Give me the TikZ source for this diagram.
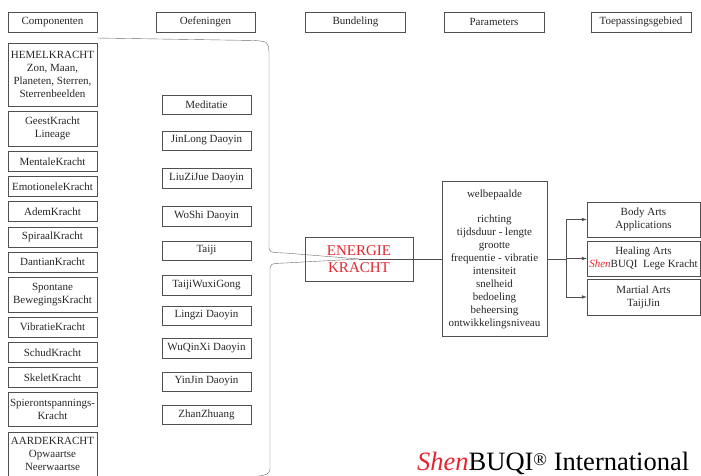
\documentclass[tikz,border=0pt]{standalone}
\usepackage{fontspec}
\setmainfont{Liberation Serif}
\usetikzlibrary{arrows.meta,positioning,calc}
\definecolor{shenred}{HTML}{E3262F}
\definecolor{boxgray}{HTML}{505050}
\definecolor{bracegray}{HTML}{6A6A6A}
\tikzset{
    node distance =4.75pt, semithick,
    box/.style ={draw=boxgray, align=center, inner xsep=1pt, inner ysep=2pt,
        text=black!85, font=\fontsize{11}{13}\selectfont},
    header/.style ={box, minimum width=100pt, minimum height=20pt},
    comp/.style ={box, minimum width=89pt, minimum height=20pt},
    oef/.style ={box, minimum width=89pt, minimum height=19.5pt},
    appl/.style ={box, minimum width=113pt, minimum height=35pt},
    tip/.style ={-{Latex[length=5pt,width=3.5pt]}}
}

\begin{document}
\begin{tikzpicture}[x=1pt, y=-1pt]
\useasboundingbox (0,0) rectangle (701,476);

% Headers
\node[header, minimum width=89pt] (hcomp) at (52.5,22) {Componenten};
\node[header, minimum width=99pt] (hoef) at (205.5,22) {Oefeningen};
\node[header] (hbund) at (355.5,22) {Bundeling};
\node[header] (hpar) at (494,22) {Parameters};
\node[header] (htoep) at (641,22) {Toepassingsgebied};

% Componenten
\node[comp, minimum height=63pt] (hemel) at (52.5,74.5) {HEMELKRACHT\\Zon, Maan,\\Planeten, Sterren,\\Sterrenbeelden};
\node[comp, minimum height=35pt, below=of hemel] (geest) {GeestKracht\\Lineage};
\node[comp, below=of geest] (mentaal) {MentaleKracht};
\node[comp, below=of mentaal] (emotie) {EmotioneleKracht};
\node[comp, below=of emotie] (adem) {AdemKracht};
\node[comp, below=of adem] (spiraal) {SpiraalKracht};
\node[comp, below=of spiraal] (dantian) {DantianKracht};
\node[comp, minimum height=35pt, below=of dantian] (spontaan) {Spontane\\BewegingsKracht};
\node[comp, below=of spontaan] (vibratie) {VibratieKracht};
\node[comp, below=of vibratie] (schud) {SchudKracht};
\node[comp, below=of schud] (skelet) {SkeletKracht};
\node[comp, minimum height=34pt, below=of skelet] (spier) {Spierontspannings-\\Kracht};
\node[comp, minimum height=45pt, below=of spier] (aarde) {AARDEKRACHT\\Opwaartse\\Neerwaartse};

% Oefeningen
\node[oef] (medi) at (206.5,104.5) {Meditatie};
\node[oef] (jinlong) at (206.5,140.5) {JinLong Daoyin};
\node[oef] (liuzijue) at (206.5,178) {LiuZiJue Daoyin};
\node[oef] (woshi) at (206.5,216) {WoShi Daoyin};
\node[oef] (taiji) at (206.5,250.5) {Taiji};
\node[oef] (wuxi) at (206.5,285) {TaijiWuxiGong};
\node[oef] (lingzi) at (206.5,315.5) {Lingzi Daoyin};
\node[oef] (wuqinxi) at (206.5,348) {WuQinXi Daoyin};
\node[oef] (yinjin) at (206.5,381.5) {YinJin Daoyin};
\node[oef] (zhan) at (206.5,414.5) {ZhanZhuang};

% Bundeling and parameters
\node[box, minimum width=108pt, minimum height=44pt, text=shenred,
  font=\fontsize{15}{17}\selectfont] (energie) at (359,259) {ENERGIE\\KRACHT};
\node[box, minimum width=105pt, minimum height=155pt,
  font=\fontsize{11}{12.9}\selectfont] (par) at (494.5,259) {welbepaalde\\[12.9pt]richting\\tijdsduur - lengte\\grootte\\frequentie - vibratie\\intensiteit\\snelheid\\bedoeling\\beheersing\\ontwikkelingsniveau};

% Toepassingen
\node[appl] (body) at (643.5,219.5) {Body Arts\\Applications};
\node[appl] (healing) at (643.5,258.5) {Healing Arts\\\textcolor{shenred}{\textit{Shen}}BUQI\ \ Lege Kracht};
\node[appl, minimum height=36pt] (martial) at (643.5,297) {Martial Arts\\TaijiJin};

\node[anchor=base west, inner sep=0pt, text=black,
  font=\fontsize{26.5}{30}\selectfont] (logo) at (417,470) {\textcolor{shenred}{\textit{Shen}}BUQI\raisebox{5pt}{\fontsize{18}{18}\selectfont ®} International};

% Brace into the bundle
\coordinate (btop) at (97,38);
\coordinate (bbot) at (245,477.5);
\draw[bracegray] (btop) -- (254,40.5) .. controls (268,41.5) .. (269,52)
  -- (269,245) .. controls (269,252.5) .. (285,253) -- (energie.center);
\draw[bracegray] (energie.center) -- (285,263) .. controls (270,263.5) .. (270,272)
  -- (270,466) .. controls (270,475) .. (bbot);
\draw[boxgray] (energie.center) -- (par.west);

% Paths to the applications
\draw[boxgray] (par.east) -- ++(19,0) coordinate (fork);
\draw[boxgray] (fork |- body.west) -- (fork |- martial.west);
\draw[boxgray, tip] (fork |- body.west) -- (body.west);
\draw[boxgray, tip] (fork |- healing.west) -- (healing.west);
\draw[boxgray, tip] (fork |- martial.west) -- (martial.west);

\end{tikzpicture}
\end{document}
